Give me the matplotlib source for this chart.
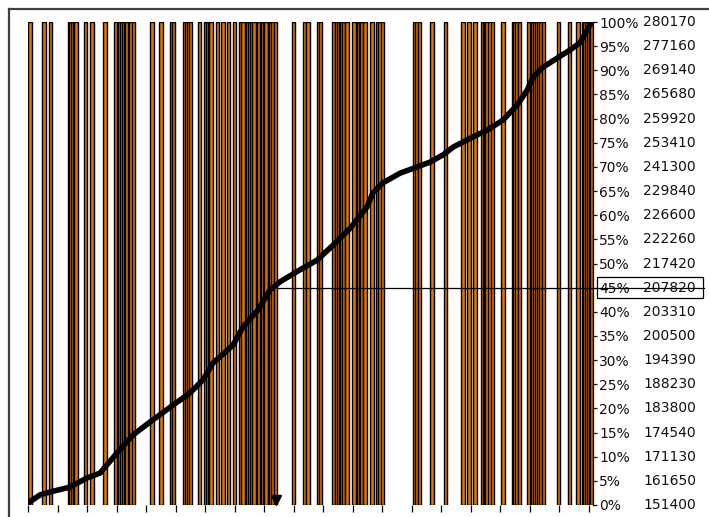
import matplotlib
matplotlib.use("Agg")
import matplotlib.pyplot as plt
from matplotlib.lines import Line2D
from matplotlib.patches import Rectangle
import matplotlib.transforms as mtransforms

# bar positions (x in tick units, ticks every 1)
bar_x = [0.07, 0.54, 0.76, 1.40, 1.46, 1.52, 1.58, 1.63, 1.96, 2.17, 2.61,
         2.97, 3.12, 3.18, 3.24, 3.30, 3.34, 3.49, 3.58, 4.20, 4.51, 4.86,
         4.93, 5.31, 5.39, 5.45, 5.52, 5.81, 6.03, 6.09, 6.15, 6.20, 6.42,
         6.61, 6.80, 7.01, 7.21, 7.29, 7.43, 7.52, 7.58, 7.66, 7.80, 7.95,
         8.01, 8.07, 8.19, 8.24, 8.29, 8.39, 9.00, 9.37, 9.49, 9.85, 9.92,
         10.36, 10.47, 10.53, 10.58, 10.64, 10.69, 10.81, 11.05, 11.20,
         11.26, 11.31, 11.42, 11.66, 11.85, 11.93, 12.02, 13.12, 13.18,
         13.27, 13.69, 14.15, 14.74, 14.95, 15.15, 15.40, 15.46, 15.51,
         15.56, 15.66, 15.75, 16.10, 16.46, 16.51, 16.56, 16.65, 16.96,
         17.11, 17.17, 17.24, 17.30, 17.36, 17.47, 17.97, 18.35, 18.64,
         18.82, 18.88, 18.94, 19.00, 19.06, 19.11]

# cumulative curve (x in tick units, y in percent)
curve_x = [0.0, 0.41, 0.75, 1.42, 2.00, 2.44, 3.02, 3.56, 4.14, 4.92, 5.49,
           5.93, 6.27, 6.95, 7.29, 7.80, 8.20, 8.54, 9.22, 9.80, 10.34,
           10.92, 11.49, 11.69, 12.03, 12.61, 13.19, 13.63, 14.07, 14.41,
           15.08, 15.56, 16.10, 16.58, 16.92, 17.12, 17.42, 17.93, 18.37,
           18.71, 19.05, 19.12]
curve_y = [0.4, 2.1, 2.7, 3.7, 5.6, 6.6, 10.8, 14.5, 17.2, 20.7, 23.2,
           25.9, 29.4, 33.1, 36.9, 40.4, 44.5, 46.2, 48.7, 50.7, 53.8,
           57.3, 61.7, 64.6, 66.7, 68.7, 70.0, 71.0, 72.5, 74.1,
           76.2, 77.6, 79.7, 82.8, 85.9, 88.6, 90.5, 92.5, 94.2,
           95.7, 99.4, 100.0]

pct_ticks = list(range(0, 105, 5))
pct_values = [151400, 161650, 171130, 174540, 183800, 188230, 194390, 200500,
              203310, 207820, 217420, 222260, 226600, 229840, 241300, 253410,
              259920, 265680, 269140, 277160, 280170]

marked_pct = 45
marked_x = 8.46

fig = plt.figure(figsize=(7.09, 5.17), dpi=100)
ax = fig.add_axes([28 / 709, 12 / 517, 565 / 709, 483 / 517])

ax.bar(bar_x, [100] * len(bar_x), width=0.11, bottom=0,
       color='#dc7400', edgecolor='black', linewidth=1.0, zorder=1)

ax.plot(curve_x, curve_y, color='black', lw=4.0, solid_capstyle='round',
        solid_joinstyle='round', zorder=3)

# 45% marker line, triangle and box round the label
ax.plot([marked_x, 22.9], [marked_pct, marked_pct], color='black', lw=0.9,
        clip_on=False, zorder=2)
ax.plot([marked_x - 0.07], [1.0], marker='v', color='black', markersize=7,
        clip_on=False, zorder=4)
ax.add_patch(Rectangle((19.29, marked_pct - 2.1), 3.6, 4.4, fill=False,
                       edgecolor='black', lw=0.9, clip_on=False, zorder=5))

ax.set_xlim(0, 19.15)
ax.set_ylim(0, 100)
ax.set_xticks(range(0, 20))
ax.set_xticklabels([])
ax.tick_params(axis='x', direction='out', length=5, width=0.9, color='black')

ax.yaxis.tick_right()
ax.set_yticks(pct_ticks)
ax.set_yticklabels([f"{p}%" for p in pct_ticks])
ax.tick_params(axis='y', direction='out', length=3, width=0.9, pad=1.5,
               labelsize=10, colors='#111111')

trans = mtransforms.blended_transform_factory(ax.transAxes, ax.transData)
for p, v in zip(pct_ticks, pct_values):
    ax.text(1.0885, p, str(v), transform=trans, ha='left', va='center',
            fontsize=10, color='#111111', zorder=6, clip_on=False)

for side in ['top', 'left', 'bottom']:
    ax.spines[side].set_visible(False)
ax.spines['right'].set_linewidth(0.9)

# outer frame (clipped by the picture edges)
fig.add_artist(Line2D([9 / 709, 9 / 709], [0, 1 - 9 / 517], color='#404040', lw=1.6))
fig.add_artist(Line2D([9 / 709, 1], [1 - 9 / 517, 1 - 9 / 517], color='#404040', lw=1.6))

fig.savefig('out.png', dpi=100)
